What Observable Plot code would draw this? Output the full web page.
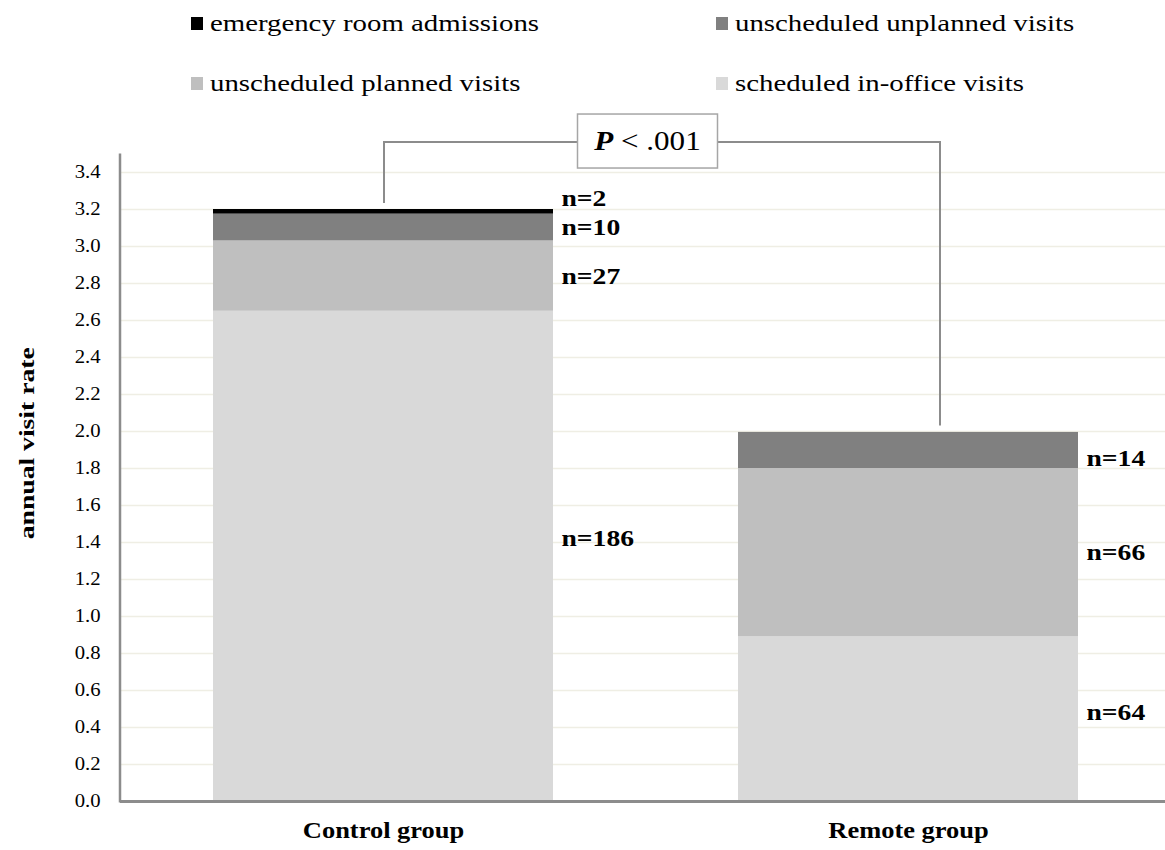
<!DOCTYPE html>
<html><head><meta charset="utf-8">
<script src="https://cdn.jsdelivr.net/npm/d3@7"></script>
<script src="https://cdn.jsdelivr.net/npm/@observablehq/plot@0.6"></script>
<style>
body{margin:0;background:#fff;overflow:hidden;font-family:"Liberation Serif","Times New Roman",serif;}
#legend{position:relative;height:105px;width:1165px;}
.item{position:absolute;height:30px;display:flex;align-items:center;font-size:24px;color:#000;white-space:nowrap;}
.sw{width:12px;height:13px;margin-right:7px;flex:none;}
.lab{display:inline-block;transform:scaleX(1.2);transform-origin:left center;}
#chart svg{display:block;}
</style></head><body>
<div id="legend"></div><div id="chart"></div>
<script>
// ---- data ----
const groups = ["Control group", "Remote group"];
const categories = ["scheduled in-office visits", "unscheduled planned visits", "unscheduled unplanned visits", "emergency room admissions"];
const colors = ["#d9d9d9", "#bfbfbf", "#808080", "#000000"];
const controlRates = [2.65, 0.38, 0.145, 0.025];
const remoteRates = [0.89, 0.91, 0.195, 0];
const controlCounts = [186, 27, 10, 2];
const remoteCounts = [64, 66, 14, 0];
const yTicks = [0, 0.2, 0.4, 0.6, 0.8, 1.0, 1.2, 1.4, 1.6, 1.8, 2.0, 2.2, 2.4, 2.6, 2.8, 3.0, 3.2, 3.4];
const yLabel = "annual visit rate";
const pLabelItalic = "P";
const pLabelRest = " < .001";
const legendOrder = ["emergency room admissions", "unscheduled unplanned visits", "unscheduled planned visits", "scheduled in-office visits"];

// ---- table ----
const rows = [];
[[groups[0], controlRates, controlCounts], [groups[1], remoteRates, remoteCounts]].forEach(([g, rates, counts]) => {
  let base = 0;
  categories.forEach((c, i) => {
    rows.push({group: g, category: c, rate: rates[i], n: counts[i], mid: base + rates[i] / 2});
    base += rates[i];
  });
});
// small label nudges (data units) to keep labels clear of edges, as in the original
const nudge = {
  "Control group|emergency room admissions": 0.072,
  "Control group|scheduled in-office visits": 0.097,
  "Remote group|unscheduled unplanned visits": -0.044,
  "Remote group|scheduled in-office visits": 0.036
};
const labels = rows.filter(d => d.n > 0).map(d => ({...d, ly: d.mid + (nudge[d.group + "|" + d.category] || 0)}));

// ---- legend ----
const legend = document.getElementById("legend");
const legendPos = [[191, 8], [716, 8], [191, 68], [716, 68]];
legendOrder.forEach((c, i) => {
  const it = document.createElement("div");
  it.className = "item";
  it.style.left = legendPos[i][0] + "px";
  it.style.top = legendPos[i][1] + "px";
  const sw = document.createElement("span");
  sw.className = "sw";
  sw.style.background = colors[categories.indexOf(c)];
  const lab = document.createElement("span");
  lab.className = "lab";
  lab.textContent = c;
  it.appendChild(sw); it.appendChild(lab);
  legend.appendChild(it);
});

// ---- plot ----
const axisColor = "#8c8c8c";
const plot = Plot.plot({
  width: 1165,
  height: 745,
  marginLeft: 120,
  marginRight: 0,
  marginTop: 48.5,
  marginBottom: 49,
  style: {fontFamily: "'Liberation Serif', 'Times New Roman', serif", fontSize: "17px", background: "white", color: "#000"},
  x: {domain: groups, paddingInner: 0.3524, paddingOuter: 0.1714, align: 0.517, label: null},
  y: {domain: [0, 3.5], label: null},
  color: {domain: categories, range: colors},
  marks: [
    Plot.ruleY(yTicks.slice(1), {stroke: "#efeee4", strokeWidth: 1.5}),
    Plot.barY(rows, {x: "group", y: "rate", fill: "category", inset: 0}),
    Plot.text(labels, {x: "group", y: "ly", text: d => "n=" + d.n, textAnchor: "start", dx: 178, fontSize: 24, fontWeight: "bold", fill: "#000"}),
    Plot.ruleY([0], {stroke: axisColor, strokeWidth: 3}),
    Plot.axisY({ticks: yTicks, tickSize: 0, tickPadding: 20, tickFormat: d3.format(".1f"), fontSize: 18, label: null}),
    Plot.axisX({tickSize: 0, tickPadding: 20, fontSize: 23, fontWeight: "bold", label: null})
  ]
});
document.getElementById("chart").appendChild(plot);

// ---- annotations via the plot's own scales ----
const xs = plot.scale("x"), ys = plot.scale("y");
const cx = g => xs.apply(g) + xs.bandwidth / 2;
const svg = d3.select(plot);
// y axis line
svg.append("line")
  .attr("x1", 120).attr("x2", 120)
  .attr("y1", ys.apply(3.5)).attr("y2", ys.apply(0) + 1.5)
  .attr("stroke", axisColor).attr("stroke-width", 2.5);

// y axis title
const frameMid = (ys.apply(0) + ys.apply(3.5)) / 2;
const yt = svg.append("text")
  .attr("class", "ytitle")
  .attr("transform", `translate(26,${frameMid - 34}) rotate(-90)`)
  .attr("text-anchor", "middle").attr("dy", "0.35em")
  .attr("font-size", 22).attr("font-weight", "bold").attr("fill", "#000")
  .text(yLabel);

const bracketLevel = 3.562;
const controlTop = d3.sum(controlRates);
const remoteTop = d3.sum(remoteRates);
const xL = cx(groups[0]) + 1, xR = cx(groups[1]) + 32;
svg.append("path")
  .attr("d", `M${xL},${ys.apply(controlTop + 0.032)}V${ys.apply(bracketLevel)}H${xR}V${ys.apply(remoteTop + 0.035)}`)
  .attr("fill", "none").attr("stroke", axisColor).attr("stroke-width", 2);
const bx = (cx(groups[0]) + cx(groups[1])) / 2 + 2, by = ys.apply(bracketLevel) - 1;
svg.append("rect")
  .attr("x", bx - 70).attr("y", by - 27).attr("width", 140).attr("height", 54)
  .attr("fill", "white").attr("stroke", "#a6a6a6").attr("stroke-width", 1.5);
const pt = svg.append("text")
  .attr("x", bx).attr("y", by).attr("dy", "0.35em")
  .attr("text-anchor", "middle").attr("font-size", 27).attr("fill", "#000");
pt.append("tspan").attr("font-style", "italic").attr("font-weight", "bold").text(pLabelItalic);
pt.append("tspan").text(pLabelRest);

// ---- horizontal stretch of texts (the original is rendered wider) ----
plot.querySelectorAll("text").forEach(t => {
  const len = t.getComputedTextLength();
  if (!len) return;
  const isTitle = t.classList.contains("ytitle");
  t.setAttribute("textLength", isTitle ? 192 : len * 1.15);
  t.setAttribute("lengthAdjust", "spacingAndGlyphs");
});
</script>
</body></html>
